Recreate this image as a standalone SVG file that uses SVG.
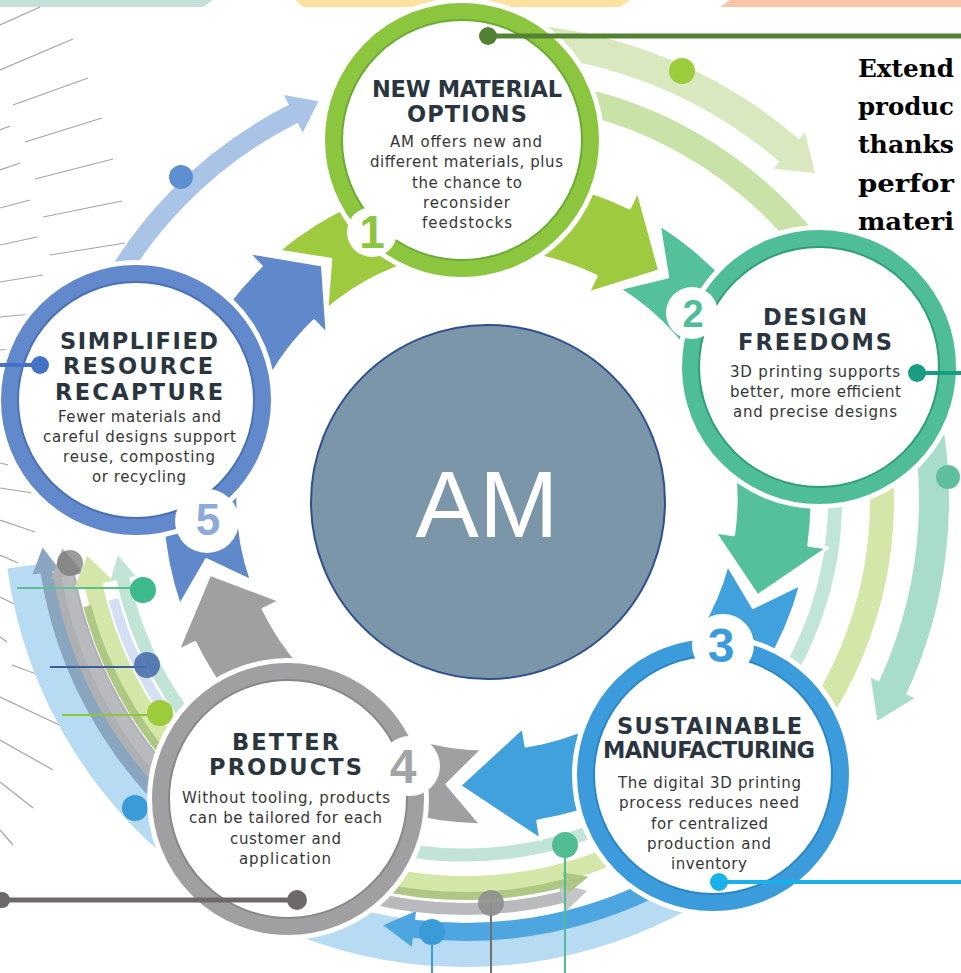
<svg xmlns="http://www.w3.org/2000/svg" width="961" height="973" viewBox="0 0 961 973">
  <style>
    .title { font-family: "DejaVu Sans", "Liberation Sans", sans-serif; font-weight: bold; font-size: 22.5px; fill: #2b3540; text-anchor: middle; }
    .body { font-family: "DejaVu Sans", "Liberation Sans", sans-serif; font-size: 15px; fill: #363636; text-anchor: middle; }
    .num { font-family: "Liberation Sans", Arial, sans-serif; font-weight: bold; text-anchor: middle; }
    .halo { fill: #ffffff; }
    .ring { fill: #ffffff; stroke-width: 17; }
    .edge { fill: none; stroke-width: 2; }
    .badge { fill: #ffffff; }
    .arc { fill: none; }
    .ray { stroke: #a5a5a5; stroke-width: 1.2; fill: none; }
    .big { stroke: #ffffff; stroke-width: 3; stroke-linejoin: round; }
    .serif { font-family: "DejaVu Serif", "Liberation Serif", serif; font-weight: bold; font-size: 25px; fill: #000000; }
  </style>

  <!-- coloured strips along the top edge -->
  <g id="top-strips">
    <polygon points="0,0 213,0 203,7 0,7" fill="#c5dfd9"/>
    <polygon points="295,0 630,0 620,7 303,7" fill="#fde1a0"/>
    <polygon points="730,0 961,0 961,7 720,7" fill="#f9c4a9"/>
  </g>

  <!-- fan of thin rays on the left -->
  <g id="rays">
    <line class="ray" x1="0" y1="25" x2="40" y2="7"/>
    <line class="ray" x1="0" y1="70" x2="73" y2="39"/>
    <line class="ray" x1="13" y1="105" x2="88" y2="78"/>
    <line class="ray" x1="25" y1="142" x2="102" y2="118"/>
    <line class="ray" x1="0" y1="130" x2="10" y2="126"/>
    <line class="ray" x1="35" y1="179" x2="113" y2="159"/>
    <line class="ray" x1="0" y1="170" x2="20" y2="163"/>
    <line class="ray" x1="43" y1="217" x2="122" y2="201"/>
    <line class="ray" x1="0" y1="208" x2="30" y2="200"/>
    <line class="ray" x1="50" y1="255" x2="125" y2="243"/>
    <line class="ray" x1="0" y1="245" x2="37" y2="237"/>
    <line class="ray" x1="0" y1="282" x2="43" y2="275"/>
    <line class="ray" x1="0" y1="317" x2="32" y2="314"/>
    <line class="ray" x1="0" y1="350" x2="10" y2="349"/>
    <line class="ray" x1="0" y1="387" x2="8" y2="388"/>
    <line class="ray" x1="0" y1="427" x2="8" y2="428"/>
    <line class="ray" x1="0" y1="463" x2="8" y2="465"/>
    <line class="ray" x1="0" y1="488" x2="33" y2="493"/>
    <line class="ray" x1="0" y1="520" x2="35" y2="532"/>
    <line class="ray" x1="0" y1="555" x2="18" y2="563"/>
    <line class="ray" x1="0" y1="597" x2="18" y2="606"/>
    <line class="ray" x1="0" y1="637" x2="7" y2="642"/>
    <line class="ray" x1="12" y1="665" x2="47" y2="678"/>
    <line class="ray" x1="0" y1="697" x2="70" y2="730"/>
    <line class="ray" x1="0" y1="740" x2="53" y2="770"/>
    <line class="ray" x1="0" y1="782" x2="33" y2="808"/>
    <line class="ray" x1="0" y1="830" x2="13" y2="845"/>
  </g>

  <!-- outer ring of light flow arcs -->
  <g id="connectors">
    <!-- recapture back to materials (top left) -->
    <circle class="arc" cx="487" cy="500" r="432" stroke="#a9c4e6" stroke-width="20" stroke-dasharray="291 5000" transform="rotate(205 487 500)"/>
    <polygon points="898,499 940,499 919,527" fill="#a9c4e6" transform="rotate(243.5 487 500)"/>

    <!-- materials to design (top right) -->
    <circle class="arc" cx="487" cy="500" r="462" stroke="#d9e8bf" stroke-width="30" stroke-dasharray="347 5000" transform="rotate(268 487 500)"/>
    <polygon points="925,499 973,499 949,533" fill="#d9e8bf" transform="rotate(311 487 500)"/>
    <circle class="arc" cx="487" cy="500" r="410" stroke="#c9e2a8" stroke-width="26" stroke-dasharray="444 5000" transform="rotate(268 487 500)"/>

    <!-- design to manufacturing (right) -->
    <circle class="arc" cx="487" cy="500" r="447" stroke="#a8dccb" stroke-width="30" stroke-dasharray="289 5000" transform="rotate(348 487 500)"/>
    <polygon points="910,499 958,499 934,535" fill="#a8dccb" transform="rotate(25 487 500)"/>
    <circle class="arc" cx="487" cy="500" r="395" stroke="#d4e7a9" stroke-width="24" stroke-dasharray="552 5000" transform="rotate(338 487 500)"/>
    <circle class="arc" cx="487" cy="500" r="348" stroke="#c1e5d8" stroke-width="14" stroke-dasharray="334 5000" transform="rotate(355 487 500)"/>

    <!-- bottom and left bands -->
    <circle class="arc" cx="465" cy="505" r="440" stroke="#b6dbf3" stroke-width="44" stroke-dasharray="876 5000" transform="rotate(58 465 505)"/>
    <circle class="arc" cx="465" cy="505" r="408" stroke="#aeb0b3" stroke-width="24" stroke-dasharray="320 5000" transform="rotate(125 465 505)"/>
    <circle class="arc" cx="465" cy="505" r="424" stroke="#8aa5bf" stroke-width="12" stroke-dasharray="392 5000" transform="rotate(118 465 505)"/>
    <polygon points="875,504 903,504 889,529" fill="#8aa5bf" transform="rotate(171 465 505)"/>
    <circle class="arc" cx="465" cy="505" r="427" stroke="#4ea6e0" stroke-width="18" stroke-dasharray="276 5000" transform="rotate(60 465 505)"/>
    <polygon points="874,504 910,504 892,535" fill="#4ea6e0" transform="rotate(97 465 505)"/>
    <circle class="arc" cx="465" cy="505" r="404" stroke="#b9babd" stroke-width="12" stroke-dasharray="663 5000" transform="rotate(76 465 505)"/>
    <polygon points="852,504 886,504 869,532" fill="#aeb0b3" transform="rotate(170 465 505)"/>
    <polygon points="854,506 884,506 869,480" fill="#c4c5c7" transform="rotate(76 465 505)"/>
    <circle class="arc" cx="465" cy="505" r="380" stroke="#d4e7a8" stroke-width="18" stroke-dasharray="690 5000" transform="rotate(64 465 505)"/>
    <polygon points="825,504 865,504 845,534" fill="#d4e7a8" transform="rotate(168 465 505)"/>
    <circle class="arc" cx="465" cy="505" r="391" stroke="#aec784" stroke-width="8" stroke-dasharray="614 5000" transform="rotate(75 465 505)"/>
    <polygon points="845,506 867,506 856,482" fill="#aec784" transform="rotate(75 465 505)"/>
    <circle class="arc" cx="465" cy="505" r="364" stroke="#d3dff2" stroke-width="10" stroke-dasharray="254 5000" transform="rotate(125 465 505)"/>
    <circle class="arc" cx="465" cy="505" r="350" stroke="#c1e4d6" stroke-width="13" stroke-dasharray="648 5000" transform="rotate(62 465 505)"/>
    <polygon points="802,504 828,504 815,528" fill="#c1e4d6" transform="rotate(168 465 505)"/>

    <!-- inner cycle of bold arrows -->
    <path class="big" fill="#5f89cb" d="M179.7 605.8 A325 325 0 0 1 261.2 266.2 L248 252.6 L322.4 264.9 L327.2 334.6 L314 320.9 A249 249 0 0 0 251.6 581.1 L206.3 559.7 Z"/>
    <path class="big" fill="#9dca3f" d="M278.1 251 A325 325 0 0 1 629.5 207.9 L637.8 190.8 L659.7 270.8 L587.8 293.3 L596.2 276.2 A249 249 0 0 0 326.9 309.3 L330.7 259.3 Z"/>
    <path class="big" fill="#55c19b" d="M659.2 224.4 A325 325 0 0 1 808.8 545.2 L827.7 547.9 L757.5 595.8 L714.8 532 L733.6 534.7 A249 249 0 0 0 618.9 288.8 L667.6 277 Z"/>
    <path class="big" fill="#41a1dd" d="M800.9 584.1 A325 325 0 0 1 537.8 821 L540.8 839.8 L459.5 785.7 L523 727.2 L525.9 745.9 A249 249 0 0 0 727.5 564.4 L753.1 607.5 Z"/>
    <path class="big" fill="#9fa0a2" d="M481.3 824.9 A325 325 0 0 1 194.9 642.5 L177.8 650.8 L209.8 574.3 L280.3 600.8 L263.2 609.2 A249 249 0 0 0 482.7 749 L447 784.2 Z"/>

    <!-- marker dots on the outer arcs -->
    <circle cx="181" cy="177" r="12" fill="#5e8fd0"/>
    <circle cx="682" cy="71" r="13" fill="#9ccc3c"/>
    <circle cx="948" cy="477" r="12" fill="#5fbf9c"/>

    <line x1="565" y1="845" x2="565" y2="973" stroke="#52bd93" stroke-width="2"/>
    <line x1="491" y1="903" x2="491" y2="973" stroke="#6f6f6f" stroke-width="2"/>
    <line x1="432" y1="932" x2="432" y2="973" stroke="#3b9ad8" stroke-width="2"/>
    <circle cx="565" cy="845" r="13" fill="#52bd93"/>
    <circle cx="491" cy="903" r="13" fill="#8f8f8f" fill-opacity="0.9"/>
    <circle cx="432" cy="932" r="13" fill="#3b9ad8"/>

    <line x1="17" y1="588" x2="143" y2="588" stroke="#5cbf8f" stroke-width="2"/>
    <line x1="50" y1="667" x2="147" y2="667" stroke="#3a5f9a" stroke-width="2"/>
    <line x1="62" y1="715" x2="160" y2="715" stroke="#8dc63f" stroke-width="2"/>
    <circle cx="143" cy="590" r="13" fill="#3dba8c"/>
    <circle cx="147" cy="665" r="13" fill="#4a6fae" fill-opacity="0.9"/>
    <circle cx="160" cy="713" r="13" fill="#9ccc3c"/>
    <circle cx="70" cy="563" r="13" fill="#7a7a7a" fill-opacity="0.75"/>
    <circle cx="135" cy="808" r="13" fill="#3b9ad8"/>
  </g>

  <!-- centre -->
  <g id="am">
    <circle cx="488" cy="502" r="177" fill="#7a96a8" stroke="#2f4f8f" stroke-width="2"/>
    <text x="487" y="537" font-family="Liberation Sans, Arial, sans-serif" font-size="95" fill="#ffffff" text-anchor="middle" textLength="143">AM</text>
  </g>

  <!-- 1 -->
  <g id="node-1">
    <circle class="halo" cx="462" cy="140" r="142"/>
    <circle class="ring" cx="462" cy="140" r="128.5" stroke="#8cc63f"/>
    <circle class="edge" cx="462" cy="140" r="120" stroke="#6aaa35"/>
    <circle class="badge" cx="372" cy="232" r="25"/>
    <text class="num" x="372" y="248" font-size="46" fill="#8cc63f">1</text>
    <text class="title" x="467" y="97" textLength="190">NEW MATERIAL</text>
    <text class="title" x="467" y="122" textLength="120">OPTIONS</text>
    <text class="body" x="466" y="147" textLength="152">AM offers new and</text>
    <text class="body" x="466.5" y="167" textLength="193">different materials, plus</text>
    <text class="body" x="467" y="188" textLength="110">the chance to</text>
    <text class="body" x="466.5" y="208" textLength="87">reconsider</text>
    <text class="body" x="467" y="228" textLength="90">feedstocks</text>
  </g>

  <!-- 2 -->
  <g id="node-2">
    <circle class="halo" cx="819" cy="367" r="142"/>
    <circle class="ring" cx="819" cy="367" r="128.5" stroke="#4fbd97"/>
    <circle class="edge" cx="819" cy="367" r="120" stroke="#2f9e7a"/>
    <circle class="badge" cx="692" cy="313" r="26"/>
    <text class="num" x="693" y="327" font-size="38" fill="#4fbd97">2</text>
    <text class="title" x="815" y="325" textLength="104">DESIGN</text>
    <text class="title" x="815" y="350" textLength="154">FREEDOMS</text>
    <text class="body" x="815" y="377" textLength="170">3D printing supports</text>
    <text class="body" x="815.5" y="397" textLength="171">better, more efficient</text>
    <text class="body" x="815" y="417" textLength="164">and precise designs</text>
  </g>

  <!-- 3 -->
  <g id="node-3">
    <circle class="halo" cx="713" cy="775" r="141"/>
    <circle class="ring" cx="713" cy="775" r="127.5" stroke="#3b9bdb"/>
    <circle class="edge" cx="713" cy="775" r="119" stroke="#2a86c6"/>
    <circle class="badge" cx="723" cy="645" r="31"/>
    <text class="num" x="721" y="662" font-size="48" fill="#3b9bdb">3</text>
    <text class="title" x="709.5" y="734" textLength="185">SUSTAINABLE</text>
    <text class="title" x="709" y="758" textLength="212">MANUFACTURING</text>
    <text class="body" x="709.5" y="788" textLength="183">The digital 3D printing</text>
    <text class="body" x="709" y="808" textLength="180">process reduces need</text>
    <text class="body" x="709.5" y="829" textLength="117">for centralized</text>
    <text class="body" x="709" y="849" textLength="124">production and</text>
    <text class="body" x="709" y="869" textLength="76">inventory</text>
  </g>

  <!-- 4 -->
  <g id="node-4">
    <circle class="halo" cx="288" cy="799" r="141"/>
    <circle class="ring" cx="288" cy="799" r="127.5" stroke="#a0a0a2"/>
    <circle class="edge" cx="288" cy="799" r="119" stroke="#86878a"/>
    <circle class="badge" cx="410" cy="766" r="30"/>
    <text class="num" x="403" y="783" font-size="48" fill="#a3a4a6">4</text>
    <text class="title" x="285.5" y="750" textLength="107">BETTER</text>
    <text class="title" x="285.5" y="775" textLength="153">PRODUCTS</text>
    <text class="body" x="286" y="803" textLength="208">Without tooling, products</text>
    <text class="body" x="285.5" y="823" textLength="193">can be tailored for each</text>
    <text class="body" x="285.5" y="844" textLength="111">customer and</text>
    <text class="body" x="285" y="864" textLength="92">application</text>
  </g>

  <!-- 5 -->
  <g id="node-5">
    <circle class="halo" cx="136" cy="400" r="140"/>
    <circle class="ring" cx="136" cy="400" r="126.5" stroke="#6189cb"/>
    <circle class="edge" cx="136" cy="400" r="118" stroke="#4a70b5"/>
    <circle class="badge" cx="207" cy="521" r="32"/>
    <text class="num" x="208" y="535" font-size="44" fill="#8faad8">5</text>
    <text class="title" x="139" y="349" textLength="158">SIMPLIFIED</text>
    <text class="title" x="138" y="374" textLength="150">RESOURCE</text>
    <text class="title" x="139" y="400" textLength="168">RECAPTURE</text>
    <text class="body" x="139.5" y="422" textLength="163">Fewer materials and</text>
    <text class="body" x="139.5" y="442" textLength="193">careful designs support</text>
    <text class="body" x="139" y="462" textLength="152">reuse, composting</text>
    <text class="body" x="139" y="482" textLength="94">or recycling</text>
  </g>

  <!-- leader lines -->
  <g id="leaders">
    <line x1="488" y1="36" x2="961" y2="36" stroke="#548235" stroke-width="5"/>
    <circle cx="488" cy="36" r="9" fill="#548235"/>
    <line x1="917" y1="373" x2="961" y2="373" stroke="#179d7f" stroke-width="4"/>
    <circle cx="917" cy="373" r="9" fill="#179d7f"/>
    <line x1="719" y1="882" x2="961" y2="882" stroke="#1ab0ea" stroke-width="4"/>
    <circle cx="719" cy="882" r="9" fill="#1ab0ea"/>
    <line x1="0" y1="900" x2="297" y2="900" stroke="#6d6969" stroke-width="5"/>
    <circle cx="297" cy="900" r="10" fill="#6d6969"/>
    <circle cx="2" cy="900" r="8" fill="#6d6969"/>
    <line x1="0" y1="365" x2="40" y2="365" stroke="#4472c4" stroke-width="4"/>
    <circle cx="40" cy="365" r="9" fill="#4472c4"/>
  </g>

  <!-- side note -->
  <g id="note">
    <text class="serif" x="858" y="77" textLength="96" lengthAdjust="spacingAndGlyphs">Extend</text>
    <text class="serif" x="858" y="115" textLength="96" lengthAdjust="spacingAndGlyphs">produc</text>
    <text class="serif" x="858" y="153" textLength="96" lengthAdjust="spacingAndGlyphs">thanks</text>
    <text class="serif" x="858" y="192" textLength="96" lengthAdjust="spacingAndGlyphs">perfor</text>
    <text class="serif" x="858" y="230" textLength="96" lengthAdjust="spacingAndGlyphs">materi</text>
  </g>
</svg>
